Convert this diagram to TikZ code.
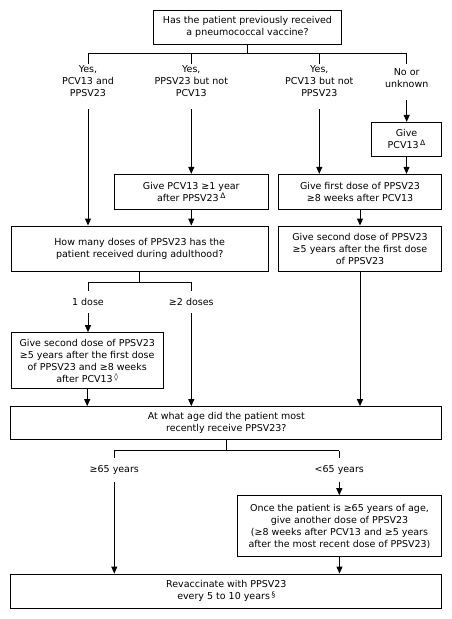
\documentclass[tikz,border=0pt]{standalone}
\usepackage{fontspec}
\setmainfont{DejaVu Sans}
\usetikzlibrary{arrows.meta}
\newcommand\supmark[1]{\,\raisebox{2.8pt}{\fontsize{7.5}{7.5}\selectfont #1}}
\begin{document}
\begin{tikzpicture}[x=1pt,y=-1pt,
  every node/.style={font=\fontsize{9.5}{12}\selectfont, align=center},
  box/.style={draw, line width=1pt, inner sep=0pt},
  lbl/.style={inner sep=0pt},
  ln/.style={line width=1pt},
  arr/.style={line width=1pt,-{Triangle[length=7pt,width=6pt]}}]
\useasboundingbox (0,0) rectangle (452,619);
% boxes
\node[box, minimum width=188.5pt, minimum height=34.3pt] (top) at (247.5,27.2) {Has the patient previously received\\a pneumococcal vaccine?};
\node[box, minimum width=70.7pt, minimum height=33.7pt] (pcv) at (406.5,139.2) {Give\\PCV13\supmark{Δ}};
\node[box, minimum width=154pt, minimum height=34.7pt] (b2) at (191.3,191.7) {Give PCV13 ≥1 year\\after PPSV23\supmark{Δ}};
\node[box, minimum width=163.4pt, minimum height=34.7pt] (b3) at (360,191.7) {Give first dose of PPSV23\\≥8 weeks after PCV13};
\node[box, minimum width=257.3pt, minimum height=45.7pt] (q2) at (139.7,248.9) {How many doses of PPSV23 has the\\patient received during adulthood?};
\node[box, minimum width=163.4pt, minimum height=45.7pt] (b4) at (360,248.9) {Give second dose of PPSV23\\≥5 years after the first dose\\of PPSV23};
\node[box, minimum width=152.3pt, minimum height=55.6pt] (b5) at (87.2,360.5) {Give second dose of PPSV23\\≥5 years after the first dose\\of PPSV23 and ≥8 weeks\\after PCV13\supmark{◊}};
\node[box, minimum width=430.7pt, minimum height=33.3pt] (q3) at (226.3,423.3) {At what age did the patient most\\recently receive PPSV23?};
\node[box, minimum width=204.4pt, minimum height=61pt] (b6) at (339.5,526.2) {Once the patient is ≥65 years of age,\\give another dose of PPSV23\\(≥8 weeks after PCV13 and ≥5 years\\after the most recent dose of PPSV23)};
\node[box, minimum width=430.7pt, minimum height=34.3pt] (fin) at (226.3,591.2) {Revaccinate with PPSV23\\every 5 to 10 years\supmark{§}};
% labels
\node[lbl] (l1) at (88,81) {Yes,\\PCV13 and\\PPSV23};
\node[lbl] (l2) at (191.3,81) {Yes,\\PPSV23 but not\\PCV13};
\node[lbl] (l3) at (319.3,81) {Yes,\\PCV13 but not\\PPSV23};
\node[lbl] (l4) at (406.7,78.5) {No or\\unknown};
\node[lbl] (d1) at (88,302) {1 dose};
\node[lbl] (d2) at (191.3,302) {≥2 doses};
\node[lbl] (a1) at (114.3,470) {≥65 years};
\node[lbl] (a2) at (339.3,470) {<65 years};
% branch coordinates
\coordinate (j0) at (247.5,53.3);
\coordinate (t1) at (88,53.3);
\coordinate (t2) at (191.3,53.3);
\coordinate (t3) at (319.3,53.3);
\coordinate (t4) at (406.7,53.3);
\coordinate (s1) at (88,109);
\coordinate (s2) at (191.3,109);
\coordinate (s3) at (319.3,109);
\coordinate (s4) at (406.7,100);
\coordinate (j2) at (139.7,282.3);
\coordinate (u1) at (88,282.3);
\coordinate (u2) at (191.3,282.3);
\coordinate (s5) at (88,313.3);
\coordinate (s6) at (191.3,313.3);
\coordinate (j3) at (226.3,450.5);
\coordinate (v1) at (114.3,450.5);
\coordinate (v2) at (339.3,450.5);
\coordinate (s7) at (114.3,481.7);
\coordinate (s8) at (339.3,481.7);
% top branching
\draw[ln] (top.south) -- (j0);
\draw[ln] (t1) -- (t4);
\foreach \t in {t1,t2,t3,t4} \draw[ln] (\t) -- ++(0,10.5);
\draw[arr] (s1) -- (s1 |- q2.north);
\draw[arr] (s2) -- (s2 |- b2.north);
\draw[arr] (s3) -- (s3 |- b3.north);
\draw[arr] (s4) -- (s4 |- pcv.north);
\draw[arr] (pcv.south) -- (pcv.south |- b3.north);
\draw[arr] (b2.south) -- (b2.south |- q2.north);
\draw[arr] (b3.south) -- (b4.north);
% second branching
\draw[ln] (q2.south) -- (j2);
\draw[ln] (u1) -- (u2);
\foreach \t in {u1,u2} \draw[ln] (\t) -- ++(0,8.4);
\draw[arr] (s5) -- (s5 |- b5.north);
\draw[arr] (s6) -- (s6 |- q3.north);
\draw[arr] (b4.south) -- (b4.south |- q3.north);
\draw[arr] (b5.south) -- (b5.south |- q3.north);
% third branching
\draw[ln] (q3.south) -- (j3);
\draw[ln] (v1) -- (v2);
\foreach \t in {v1,v2} \draw[ln] (\t) -- ++(0,7.5);
\draw[arr] (s7) -- (s7 |- fin.north);
\draw[arr] (s8) -- (s8 |- b6.north);
\draw[arr] (b6.south) -- (b6.south |- fin.north);
\end{tikzpicture}
\end{document}
